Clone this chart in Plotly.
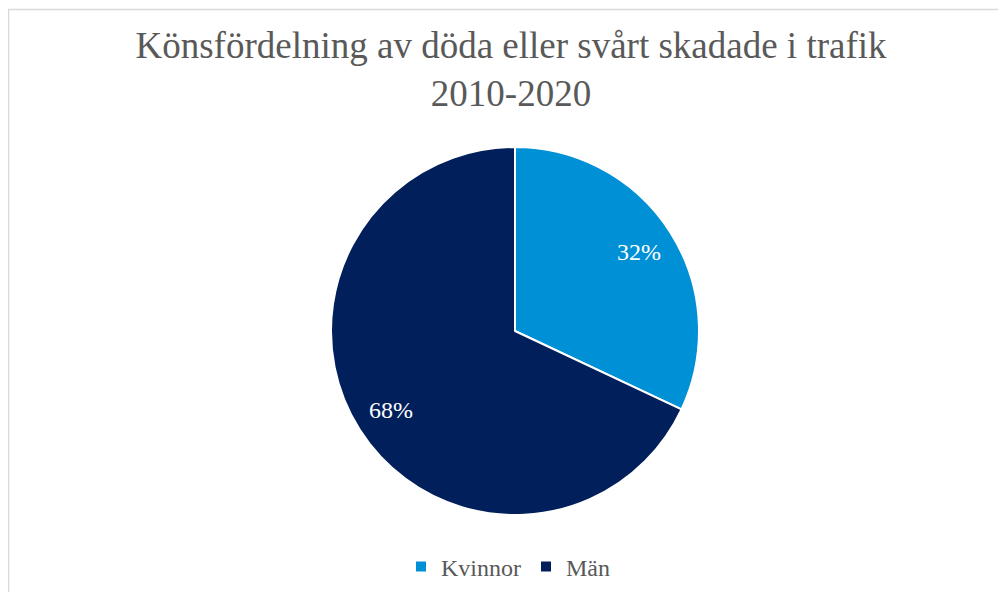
import math
import plotly.graph_objects as go

labels = ["Kvinnor", "Män"]
values = [32, 68]
colors = ["#0090D5", "#001F5B"]
title_text = "Könsfördelning av döda eller svårt skadade i trafik<br>2010-2020"

W, H = 1006, 592
OFF = 8  # page body margin in the browser
cx, cy, r = 515 - OFF, 331 - OFF, 184

fig = go.Figure(go.Pie(
    labels=labels,
    values=values,
    sort=False,
    direction="clockwise",
    rotation=0,
    marker=dict(colors=colors, line=dict(color="white", width=2)),
    textinfo="none",
    hoverinfo="label+percent",
    domain=dict(x=[(cx - r) / W, (cx + r) / W], y=[(H - cy - r) / H, (H - cy + r) / H]),
))

# data labels placed along each slice's mid-angle (Excel-style)
total = sum(values)
cum = 0
annotations = []
for v in values:
    mid = (cum + v / 2) / total * 2 * math.pi
    cum += v
    d = 0.8 * r
    px = cx + d * math.sin(mid)
    py = cy - d * math.cos(mid)
    annotations.append(dict(
        x=px / W, y=(H - py) / H, xref="paper", yref="paper",
        text=f"{round(v / total * 100)}%", showarrow=False,
        xanchor="center", yanchor="middle",
        font=dict(family="Liberation Serif", size=24, color="white")))

fig.update_layout(
    width=W, height=H,
    margin=dict(l=0, r=0, t=0, b=0, autoexpand=False),
    paper_bgcolor="white",
    plot_bgcolor="white",
    title=dict(text=title_text, x=(511 - OFF) / W, xanchor="center", y=1 - 50 / H, yanchor="top",
               yref="container",
               font=dict(family="Liberation Serif", size=37, color="#595959")),
    legend=dict(orientation="h", x=(513 - OFF - 5) / W, xanchor="center", y=(H - 567 + OFF) / H,
                yanchor="middle",
                font=dict(family="Liberation Serif", size=24, color="#595959"),
                itemsizing="constant"),
    annotations=annotations,
    shapes=[dict(type="rect", xref="paper", yref="paper",
                 x0=0.5 / W, x1=1.05, y0=-0.05, y1=(H - 1.5) / H,
                 line=dict(color="#D9D9D9", width=1.5), fillcolor="rgba(0,0,0,0)", layer="below")],
)

fig.write_html("out.html")
